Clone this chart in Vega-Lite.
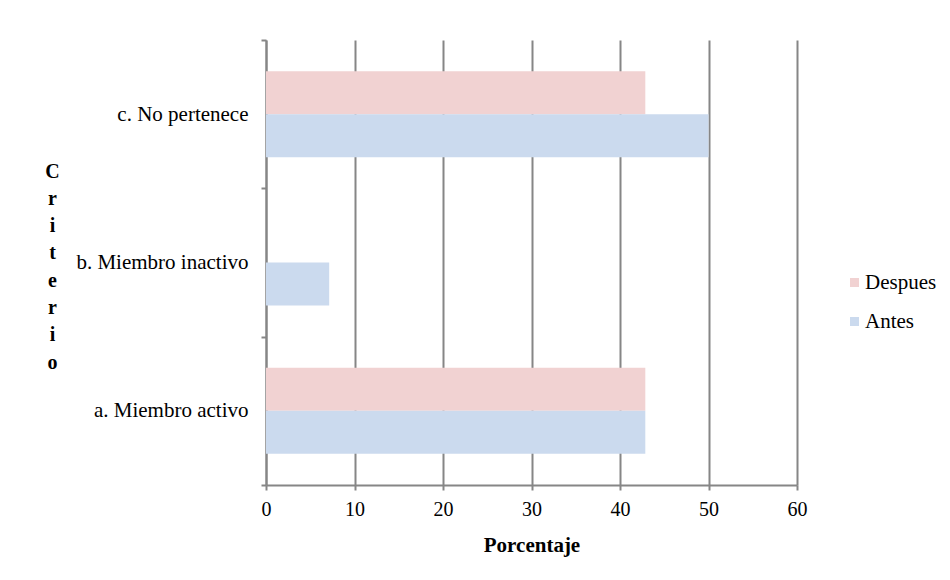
{
  "$schema": "https://vega.github.io/schema/vega-lite/v6.json",
  "width": 531,
  "height": 445,
  "autosize": {"type": "none"},
  "padding": {"left": 266, "top": 40, "right": 153, "bottom": 95},
  "background": "white",
  "config": {
    "view": {"stroke": null},
    "font": "Liberation Serif"
  },
  "data": {
    "values": [
      {"criterio": "c. No pertenece", "momento": "Despues", "porcentaje": 42.86},
      {"criterio": "c. No pertenece", "momento": "Antes", "porcentaje": 50.0},
      {"criterio": "b. Miembro inactivo", "momento": "Despues", "porcentaje": 0},
      {"criterio": "b. Miembro inactivo", "momento": "Antes", "porcentaje": 7.14},
      {"criterio": "a. Miembro activo", "momento": "Despues", "porcentaje": 42.86},
      {"criterio": "a. Miembro activo", "momento": "Antes", "porcentaje": 42.86}
    ]
  },
  "mark": {"type": "bar"},
  "encoding": {
    "y": {
      "field": "criterio",
      "type": "nominal",
      "sort": ["c. No pertenece", "b. Miembro inactivo", "a. Miembro activo"],
      "scale": {"paddingInner": 0, "paddingOuter": 0},
      "axis": {
        "title": ["C", "r", "i", "t", "e", "r", "i", "o"],
        "titleAngle": 0,
        "titleAlign": "center",
        "titleBaseline": "middle",
        "titleX": -214,
        "titleY": 131,
        "titleLineHeight": 27.3,
        "titleFont": "Liberation Serif",
        "titleFontSize": 20,
        "titleFontWeight": "bold",
        "titleColor": "black",
        "labelFont": "Liberation Serif",
        "labelFontSize": 21,
        "labelColor": "black",
        "labelPadding": 13,
        "tickBand": "extent",
        "tickSize": 5,
        "tickColor": "#868686",
        "tickWidth": 2,
        "domainColor": "#868686",
        "domainWidth": 2,
        "grid": false
      }
    },
    "yOffset": {
      "field": "momento",
      "type": "nominal",
      "sort": ["Despues", "Antes"],
      "scale": {"paddingInner": 0, "paddingOuter": 0.725}
    },
    "x": {
      "field": "porcentaje",
      "type": "quantitative",
      "scale": {"domain": [0, 60], "nice": false},
      "axis": {
        "title": "Porcentaje",
        "values": [0, 10, 20, 30, 40, 50, 60],
        "titleFont": "Liberation Serif",
        "titleFontSize": 21,
        "titleFontWeight": "bold",
        "titleColor": "black",
        "titlePadding": 15,
        "labelFont": "Liberation Serif",
        "labelFontSize": 20,
        "labelColor": "black",
        "labelPadding": 9,
        "labelFlush": false,
        "tickSize": 5,
        "tickColor": "#868686",
        "tickWidth": 2,
        "domainColor": "#868686",
        "domainWidth": 2,
        "grid": true,
        "gridColor": "#868686",
        "gridWidth": 2
      }
    },
    "color": {
      "field": "momento",
      "type": "nominal",
      "scale": {"domain": ["Despues", "Antes"], "range": ["#f1d2d2", "#cbdaee"]},
      "legend": {
        "title": null,
        "orient": "none",
        "legendX": 578,
        "legendY": 232,
        "symbolType": "square",
        "symbolSize": 81,
        "symbolStrokeWidth": 0,
        "labelFont": "Liberation Serif",
        "labelFontSize": 21,
        "labelColor": "black",
        "labelOffset": 0,
        "rowPadding": 17
      }
    }
  }
}
